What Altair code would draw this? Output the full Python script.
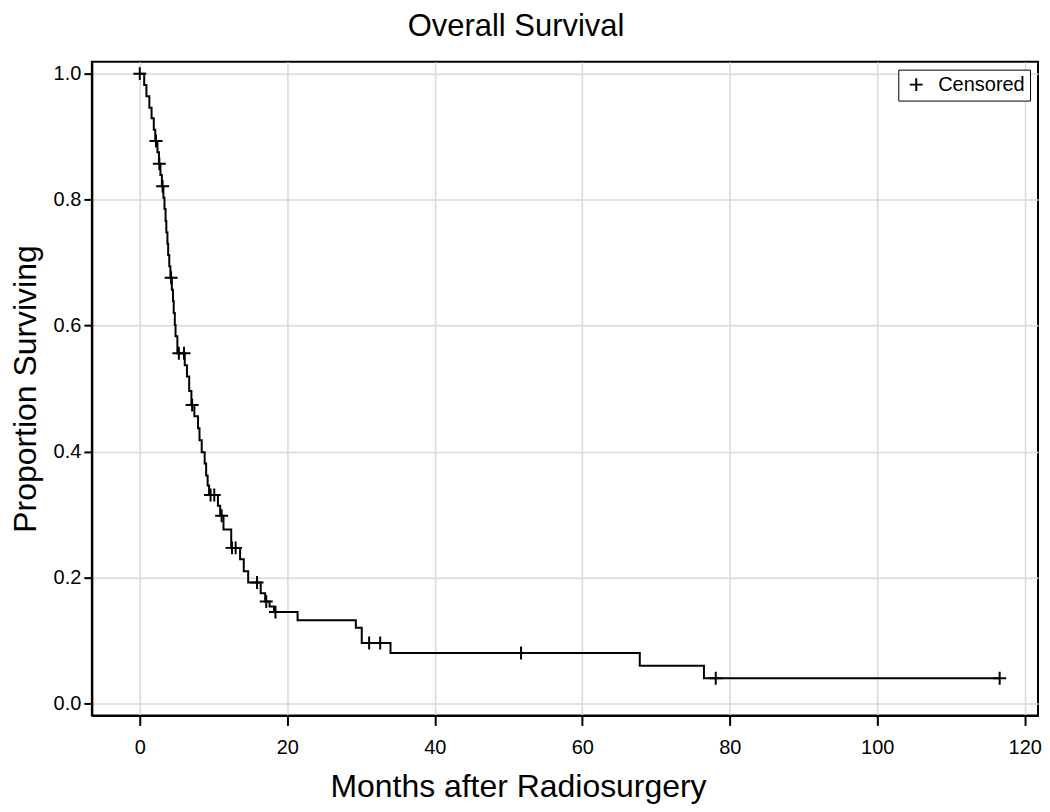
import altair as alt
import pandas as pd

# Step function of the survival curve (time in months, survival after the drop)
event_times = [0.6, 0.9, 1.3, 1.6, 1.9, 2.1, 2.4, 2.6, 2.8, 3.0, 3.2, 3.35, 3.5, 3.6,
               3.75, 3.85, 4.0, 4.15, 4.35, 4.5, 4.6, 4.75, 4.85, 5.1, 6.1, 6.4, 6.7,
               7.0, 7.4, 7.9, 8.1, 8.4, 8.8, 9.0, 9.2, 9.4, 10.6, 10.9, 11.35, 12.4,
               13.6, 14.1, 14.7, 16.4, 17.0, 17.6, 18.2, 21.4, 29.3, 30.1, 34.0, 67.8, 76.5]
event_surv = [0.982, 0.964, 0.946, 0.929, 0.911, 0.893, 0.875, 0.857, 0.839, 0.821, 0.803,
              0.785, 0.766, 0.748, 0.730, 0.712, 0.694, 0.676, 0.657, 0.639, 0.620, 0.601,
              0.583, 0.556, 0.537, 0.519, 0.496, 0.474, 0.456, 0.437, 0.418, 0.399, 0.381,
              0.362, 0.346, 0.331, 0.314, 0.298, 0.276, 0.247, 0.229, 0.210, 0.192, 0.175,
              0.162, 0.154, 0.145, 0.132, 0.120, 0.096, 0.080, 0.060, 0.040]
start_time, start_surv = 0.0, 1.0
last_time = 116.6

# Censored observation times (months)
censor_times = [0.0, 2.2, 2.65, 3.1, 4.25, 5.3, 6.0, 7.1, 9.6, 10.1, 11.1, 12.5, 13.0,
                15.9, 17.15, 18.4, 31.1, 32.6, 51.7, 78.1, 116.6]

x_ticks = [0, 20, 40, 60, 80, 100, 120]
y_ticks = [0.0, 0.2, 0.4, 0.6, 0.8, 1.0]

FONT = "Liberation Sans"

line_t = [start_time] + event_times + [last_time]
line_s = [start_surv] + event_surv + [event_surv[-1]]
line_df = pd.DataFrame({"t": line_t, "s": line_s})


def surv_at(t):
    s = start_surv
    for et, es in zip(event_times, event_surv):
        if et <= t:
            s = es
    return s


cens_df = pd.DataFrame({"t": censor_times,
                        "s": [surv_at(t) for t in censor_times],
                        "kind": ["Censored"] * len(censor_times)})

xscale = alt.Scale(domain=[-6.5, 121.8], nice=False, zero=False)
yscale = alt.Scale(domain=[-0.019, 1.019], nice=False, zero=False)

xaxis = alt.Axis(values=x_ticks, title="Months after Radiosurgery", format="d",
                 tickSize=10, labelPadding=12, titlePadding=14,
                 titleX=427, titleAnchor="start", titleAlign="center")
yaxis = alt.Axis(values=y_ticks, title="Proportion Surviving", format=".1f",
                 tickSize=8, labelPadding=3, titlePadding=11)

line = alt.Chart(line_df).mark_line(interpolate="step-after", color="black",
                                    strokeWidth=2).encode(
    x=alt.X("t:Q", scale=xscale, axis=xaxis),
    y=alt.Y("s:Q", scale=yscale, axis=yaxis),
)

plus = "M-1,0H1M0,-1V1"
pts = alt.Chart(cens_df).mark_point(filled=False, stroke="black", strokeWidth=2,
                                    size=169, opacity=1).encode(
    x=alt.X("t:Q", scale=xscale),
    y=alt.Y("s:Q", scale=yscale),
    shape=alt.Shape("kind:N", scale=alt.Scale(domain=["Censored"], range=[plus]),
                    legend=alt.Legend(title=None, orient="top-right", offset=8,
                                      strokeColor="black", fillColor="white",
                                      padding=5, labelFontSize=20, labelFont=FONT,
                                      labelColor="black", symbolSize=169,
                                      symbolStrokeWidth=2, symbolStrokeColor="black",
                                      symbolFillColor="transparent", labelOffset=12,
                                      symbolOffset=3)),
)

chart = alt.layer(line, pts).properties(
    width=948, height=655,
    title=alt.TitleParams("Overall Survival", font=FONT, fontSize=31,
                          fontWeight="normal", color="black", offset=19, dx=-49),
    autosize=alt.AutoSizeParams(type="none"),
    padding={"left": 84, "top": 53, "right": 4, "bottom": 90},
).configure_view(
    stroke="black", strokeWidth=2
).configure_axis(
    labelFont=FONT, titleFont=FONT, labelFontSize=20, titleFontSize=32,
    titleFontWeight="normal", labelColor="black", titleColor="black",
    domainColor="black", domainWidth=2, tickColor="black", tickWidth=2,
    gridColor="#d9d9d9", gridWidth=1.5,
)

chart.save("out.html", embed_options={"renderer": "svg", "actions": False})
